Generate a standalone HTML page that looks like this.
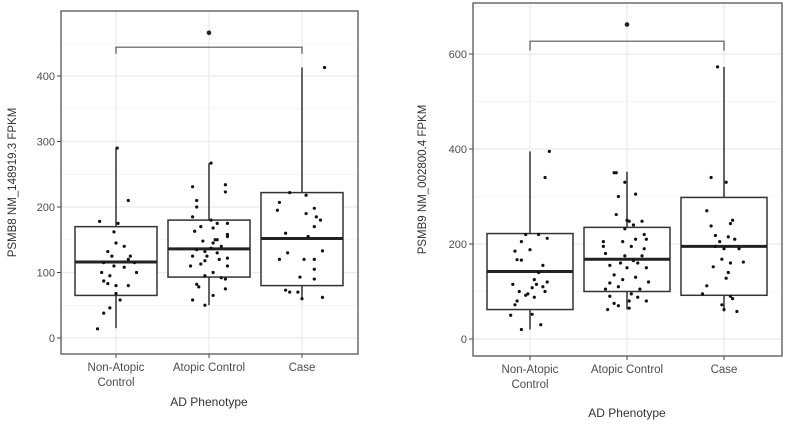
<!DOCTYPE html>
<html><head><meta charset="utf-8"><style>
body{margin:0;background:#fff;}
svg{display:block;font-family:"Liberation Sans",sans-serif;}
</style></head><body>
<svg id="c" width="787" height="427"></svg>
<script>
const categories=["Non-Atopic Control","Atopic Control","Case"];
const p1Q1=[65,93,80], p1Med=[116,136,152], p1Q3=[170,180,222], p1Lo=[15,50,58], p1Hi=[290,267,413];
const p1Ticks=[0,100,200,300,400];
const p1Pts=[
 [[0.03,290],[0.3,210],[-0.4,178],[0.05,175],[-0.05,162],[0,145],[0.2,140],[-0.2,132],[-0.1,125],[0.35,125],[0.3,120],[-0.3,115],[0.2,108],[0.5,100],[-0.35,100],[-0.15,95],[-0.3,87],[-0.2,83],[0,80],[0.3,80],[0,68],[0.1,58],[-0.15,46],[-0.3,38],[-0.45,14],[0.45,115],[-0.05,110]],
 [[0.05,267],[-0.4,231],[0.4,234],[0.4,223],[-0.3,210],[-0.3,200],[-0.4,185],[0.05,180],[-0.2,170],[0.1,168],[-0.35,163],[0.45,155],[0.45,158],[0.2,150],[-0.15,148],[0.1,145],[0.3,140],[-0.3,135],[0.05,137],[-0.1,132],[0.2,130],[-0.4,125],[0.45,122],[0.25,120],[-0.1,118],[-0.2,113],[-0.45,110],[0.45,110],[0.1,100],[-0.1,95],[0.3,92],[0.4,90],[-0.3,82],[-0.25,78],[0.4,75],[0.1,65],[-0.4,58],[-0.1,50],[0.2,175],[0.45,175],[-0.05,125],[0.15,150]],
 [[0.55,413],[-0.3,222],[0.1,218],[-0.55,207],[-0.6,195],[0.1,190],[0.3,198],[0.35,185],[0.45,180],[0.3,170],[-0.4,160],[0.15,155],[-0.35,130],[0.5,133],[-0.55,120],[0.05,120],[0.3,120],[0.3,105],[-0.05,93],[0.3,90],[-0.4,73],[-0.3,70],[-0.1,70],[0.5,62],[0,60]]
];
const p2Q1=[62,100,92], p2Med=[142,168,195], p2Q3=[222,235,298], p2Lo=[20,62,58], p2Hi=[395,352,573];
const p2Ticks=[0,200,400,600];
const p2Pts=[
 [[0.45,395],[0.35,340],[-0.1,220],[0.2,220],[0.4,212],[-0.2,205],[-0.35,185],[0,188],[-0.3,167],[-0.2,166],[0.3,155],[0.2,140],[-0.4,115],[0.1,125],[0.15,115],[0.05,108],[-0.25,100],[0.35,100],[0.4,120],[-0.1,92],[0.1,88],[-0.3,80],[-0.35,72],[0.05,52],[-0.45,50],[0.25,30],[-0.2,20],[0.3,110],[-0.05,95]],
 [[-0.3,350],[-0.25,350],[-0.05,330],[0.2,305],[-0.2,300],[-0.25,262],[0,250],[0.05,248],[0.35,248],[0.15,240],[-0.05,232],[0.4,220],[0.45,210],[-0.55,205],[-0.1,205],[0.2,210],[-0.55,195],[0.1,195],[0.4,190],[-0.5,180],[0.35,175],[-0.05,175],[0.15,165],[0.25,160],[-0.4,155],[0,150],[0.45,150],[-0.3,135],[0.2,130],[-0.1,125],[0.5,120],[-0.4,118],[-0.2,110],[0.3,105],[-0.5,105],[0.1,95],[-0.4,90],[0.25,88],[0.45,80],[-0.3,75],[-0.2,70],[0.05,65],[-0.45,62],[0.05,80],[-0.15,160]],
 [[-0.15,573],[-0.3,340],[0.05,330],[-0.4,270],[0.2,250],[-0.3,238],[0.15,243],[-0.2,218],[0.1,215],[0.25,210],[-0.1,205],[-0.2,195],[0.35,190],[0,190],[-0.05,168],[0.15,160],[0.45,162],[-0.25,152],[0.1,140],[0.05,128],[-0.4,112],[-0.5,95],[0.15,90],[0.2,85],[-0.05,72],[0,62],[0.3,58]]
];

const NS="http://www.w3.org/2000/svg";
const svg=document.getElementById('c');
function mk(t,a,p){const e=document.createElementNS(NS,t);for(const k in a)e.setAttribute(k,a[k]);(p||svg).appendChild(e);return e;}

function panel(cfg){
 const g=mk('g',{});
 
 
 const y=v=>cfg.y0-(v)*cfg.ys;
 const x=i=>cfg.cx[i];
 // background grid
 const bg=mk('rect',{x:cfg.L,y:cfg.T,width:cfg.R-cfg.L,height:cfg.B-cfg.T,fill:'#fff'},g);
 
 const step=cfg.ticks[1]-cfg.ticks[0];
 for(let v=-step/2;v<=cfg.ticks[cfg.ticks.length-1]+step;v+=step/2){
  const yy=y(v); if(yy<cfg.T||yy>cfg.B)continue;
  const ln=mk('line',{x1:cfg.L,x2:cfg.R,y1:yy,y2:yy,stroke:'#ebebeb','stroke-width':Math.abs(v%step)<1e-6?1.2:0.6},g);
  
 }
 for(let i=0;i<3;i++){const ln=mk('line',{x1:x(i),x2:x(i),y1:cfg.T,y2:cfg.B,stroke:'#ebebeb','stroke-width':1.2},g);
  }
 for(let i=0;i<3;i++){
  const w=mk('line',{x1:x(i),x2:x(i),y1:y(cfg.hi[i]),y2:y(cfg.lo[i]),stroke:'#333','stroke-width':1.5},g);
  
  const b=mk('rect',{x:x(i)-cfg.hw,y:y(cfg.q3[i]),width:2*cfg.hw,height:y(cfg.q1[i])-y(cfg.q3[i]),fill:'#fff',stroke:'#333','stroke-width':1.5},g);
  
  const m=mk('line',{x1:x(i)-cfg.hw,x2:x(i)+cfg.hw,y1:y(cfg.med[i]),y2:y(cfg.med[i]),stroke:'#222','stroke-width':3},g);
  
  cfg.pts[i].forEach(p=>{const c=mk('circle',{cx:x(i)+p[0]*cfg.hw,cy:y(p[1]),r:1.6,fill:'#111'},g);
   });
 }
 // bracket
 const by=y(cfg.br), bt=y(cfg.br-cfg.brd);
 const br=mk('path',{d:`M${x(0)},${bt}V${by}H${x(2)}V${bt}`,fill:'none',stroke:'#555','stroke-width':1.2},g);
 
 const st=mk('circle',{cx:x(1),cy:y(cfg.star),r:2.3,fill:'#222'},g);
 
 const fr=mk('rect',{x:cfg.L,y:cfg.T,width:cfg.R-cfg.L,height:cfg.B-cfg.T,fill:'none',stroke:'#555','stroke-width':1.3},g);
 
 cfg.ticks.forEach(v=>{
  const tk=mk('line',{x1:cfg.L-4,x2:cfg.L,y1:y(v),y2:y(v),stroke:'#444'},g);
  
  const t=mk('text',{x:cfg.L-6,y:y(v)+4,'text-anchor':'end','font-size':11,fill:'#4d4d4d'},g);t.textContent=v;
  
 });
 const labs=[["Non-Atopic","Control"],["Atopic Control"],["Case"]];
 for(let i=0;i<3;i++){
  const tk=mk('line',{x1:x(i),x2:x(i),y1:cfg.B,y2:cfg.B+4,stroke:'#444'},g);
  
  labs[i].forEach((s,j)=>{const t=mk('text',{x:x(i),y:cfg.B+17+j*15,'text-anchor':'middle','font-size':11.5,fill:'#4d4d4d'},g);t.textContent=s;
   });
 }
 const xt=mk('text',{x:x(1),y:cfg.xtY,'text-anchor':'middle','font-size':12,fill:'#333'},g);xt.textContent='AD Phenotype';
 
 const yt=mk('text',{x:0,y:0,'text-anchor':'middle','font-size':11.5,fill:'#333',transform:`translate(${cfg.ytX},${(cfg.T+cfg.B)/2}) rotate(-90)`},g);yt.textContent=cfg.ytitle;
 
}
panel({name:'psmb8-panel',L:61,R:358,T:11,B:354,y0:338,ys:0.655,cx:[116,209,302],hw:41,
 q1:p1Q1,med:p1Med,q3:p1Q3,lo:p1Lo,hi:p1Hi,ticks:p1Ticks,pts:p1Pts,br:444,brd:10,star:466,
 xtY:406,ytX:16,ytitle:'PSMB8 NM_148919.3 FPKM'});
panel({name:'psmb9-panel',L:473,R:782,T:3,B:356,y0:339,ys:0.475,cx:[530,627,724],hw:43,
 q1:p2Q1,med:p2Med,q3:p2Q3,lo:p2Lo,hi:p2Hi,ticks:p2Ticks,pts:p2Pts,br:627,brd:20,star:662,
 xtY:417,ytX:426,ytitle:'PSMB9 NM_002800.4 FPKM'});
</script>
</body></html>
